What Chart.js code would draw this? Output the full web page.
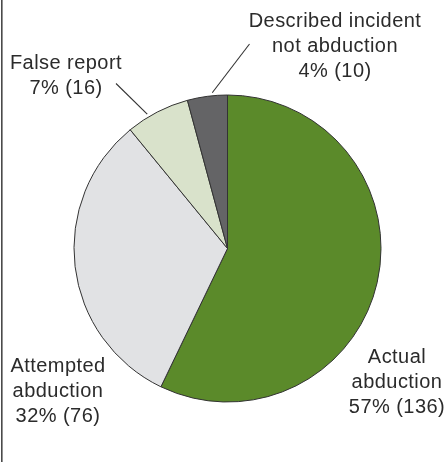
<!DOCTYPE html>
<html>
<head>
<meta charset="utf-8">
<script src="https://cdn.jsdelivr.net/npm/chart.js@4/dist/chart.umd.min.js"></script>
<style>
  html, body { margin: 0; padding: 0; background: #ffffff; }
  #wrap { position: relative; width: 448px; height: 462px; }
</style>
</head>
<body>
<div id="wrap"><canvas id="pie" width="448" height="462"></canvas></div>
<script>
// Outcome categories (clockwise from 12 o'clock)
const categories = [
  ['Actual', 'abduction'],
  ['Attempted', 'abduction'],
  ['False report'],
  ['Described incident', 'not abduction']
];
const counts = [136, 76, 16, 10];
const percents = [57, 32, 7, 4];
const sliceColors = ['#5b8a2a', '#e1e2e4', '#d9e2cb', '#646466'];

// Label anchors: centre x, first baseline y; optional leader line
const labelLayout = [
  { x: 397, y: 363, lead: null },
  { x: 58,  y: 371.5, lead: null },
  { x: 66,  y: 68.5, lead: { frac: 0.35, to: [116, 83.5] } },
  { x: 335, y: 26.5, lead: { frac: 0.63, to: [249.5, 44] } }
];
const LINE_H = 25;

const labelPlugin = {
  id: 'sliceLabels',
  afterDraw(chart) {
    const ctx = chart.ctx;
    const meta = chart.getDatasetMeta(0);
    ctx.save();
    // frame rule on the left edge
    ctx.fillStyle = '#4a4a4a';
    ctx.fillRect(1, 0, 1.6, chart.height);

    ctx.font = '20px "Liberation Sans", Arial, sans-serif';
    if ('letterSpacing' in ctx) ctx.letterSpacing = '0.45px';
    ctx.fillStyle = '#2b2b2b';
    ctx.textAlign = 'center';
    ctx.textBaseline = 'alphabetic';

    meta.data.forEach((arc, i) => {
      const lay = labelLayout[i];
      const lines = categories[i].concat([percents[i] + '% (' + counts[i] + ')']);
      lines.forEach((t, k) => ctx.fillText(t, lay.x, lay.y + k * LINE_H));
      if (lay.lead) {
        const p = arc.getProps(['x', 'y', 'startAngle', 'endAngle', 'outerRadius'], true);
        const a = p.startAngle + (p.endAngle - p.startAngle) * lay.lead.frac;
        const r = p.outerRadius + 3;
        ctx.beginPath();
        ctx.moveTo(p.x + r * Math.cos(a), p.y + r * Math.sin(a));
        ctx.lineTo(lay.lead.to[0], lay.lead.to[1]);
        ctx.lineWidth = 1.1;
        ctx.strokeStyle = '#333333';
        ctx.stroke();
      }
    });
    ctx.restore();
  }
};

new Chart(document.getElementById('pie'), {
  type: 'pie',
  data: {
    labels: categories.map(c => c.join(' ')),
    datasets: [{
      data: counts,
      backgroundColor: sliceColors,
      borderColor: '#333333',
      borderWidth: 1,
      radius: 153.5
    }]
  },
  options: {
    responsive: false,
    animation: false,
    layout: { padding: { left: 7, right: 0, top: 35, bottom: 0 } },
    plugins: {
      legend: { display: false },
      tooltip: { enabled: false }
    }
  },
  plugins: [labelPlugin]
});
</script>
</body>
</html>
